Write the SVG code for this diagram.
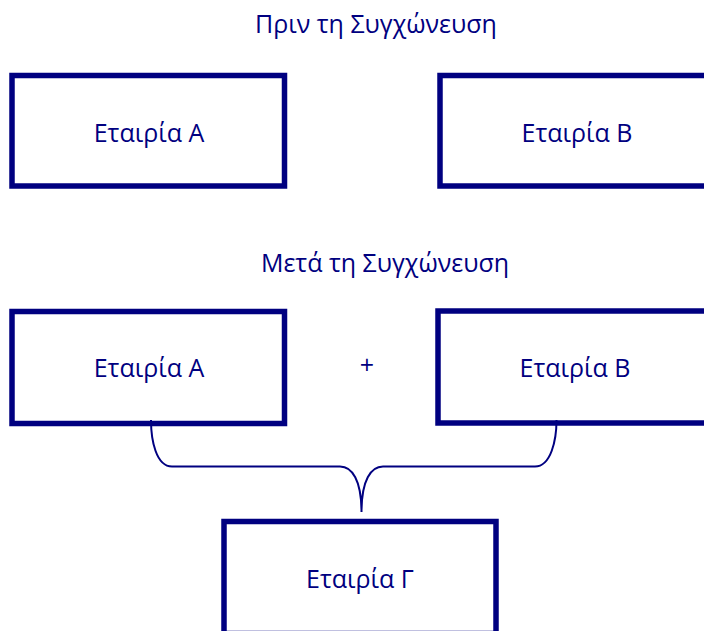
<svg xmlns="http://www.w3.org/2000/svg" width="704" height="631" viewBox="0 0 704 631">
<style>
.box{fill:#fff;stroke:#000080;stroke-width:5.5}
.t{font-family:"Open Sans","DejaVu Sans",sans-serif;font-size:25px;fill:#000080;text-anchor:middle}
.c{fill:none;stroke:#000080;stroke-width:2}
</style>
<rect width="704" height="631" fill="#fff"/>
<text class="t" x="376" y="33">Πριν τη Συγχώνευση</text>
<g id="a1"><rect class="box" x="12" y="75.5" width="272.5" height="110.5"/><text class="t" x="149" y="142">Εταιρία Α</text></g>
<g id="b1"><rect class="box" x="440" y="75.5" width="272.5" height="110.5"/><text class="t" x="577" y="142">Εταιρία Β</text></g>
<text class="t" x="385" y="272">Μετά τη Συγχώνευση</text>
<g id="a2"><rect class="box" x="12" y="311.5" width="272.5" height="112"/><text class="t" x="149" y="377">Εταιρία Α</text></g>
<g id="b2"><rect class="box" x="438" y="311" width="272.5" height="112"/><text class="t" x="575" y="377">Εταιρία Β</text></g>
<text class="t" x="367" y="374">+</text>
<g id="g"><rect class="box" x="224" y="521.5" width="272" height="112"/><text class="t" x="360" y="588">Εταιρία Γ</text></g>
<g id="connectors">
<path class="c" d="M151 420 C151 440 156 466.5 172 466.5 L340 466.5 C352 466.5 361.5 480 361.5 512 C361.5 480 371 466.5 383 466.5 L535 466.5 C551 466.5 556.5 440 556.5 420"/>
</g>
</svg>
